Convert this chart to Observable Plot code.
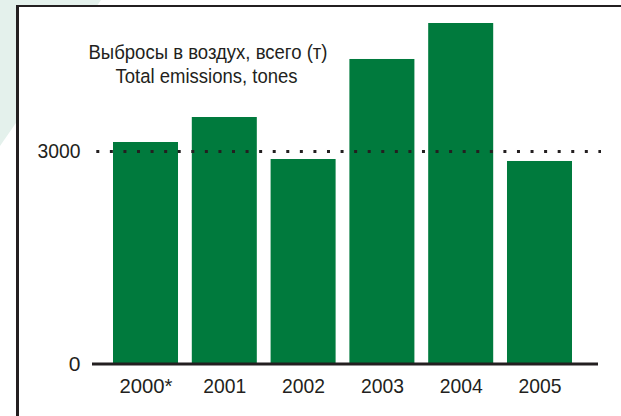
<!DOCTYPE html>
<html>
<head>
<meta charset="utf-8">
<script src="https://cdn.jsdelivr.net/npm/d3@7"></script>
<script src="https://cdn.jsdelivr.net/npm/@observablehq/plot@0.6"></script>
<style>
  html, body { margin: 0; padding: 0; background: #fff; }
  #wrap { position: relative; width: 621px; height: 416px; overflow: hidden; background: #fff;
          font-family: "Liberation Sans", Arial, sans-serif; }
  #mint { position: absolute; left: 0; top: 0; width: 621px; height: 416px; background: #e4f1ec;
          clip-path: polygon(0 0, 101px 0, 0 146px); }
  #box { position: absolute; left: 16px; top: 4.8px; width: 700px; height: 500px; background: #fff;
         border-top: 2.5px solid #231f20; border-left: 3px solid #231f20; }
  #chart { position: absolute; left: 0; top: 0; }
</style>
</head>
<body>
<div id="wrap">
  <div id="mint"></div>
  <div id="box"></div>
  <div id="chart"></div>
</div>
<script>
const years = ["2000*", "2001", "2002", "2003", "2004", "2005"];
const emissions = [3127, 3480, 2887, 4299, 4807, 2859];
const yTicks = [0, 3000];
const referenceLevel = [3000];
const titleRu = "Выбросы в воздух, всего (т)";
const titleEn = "Total emissions, tones";

const data = years.map((year, i) => ({year, value: emissions[i]}));

const chart = Plot.plot({
  width: 621,
  height: 416,
  marginTop: 0,
  marginLeft: 92,
  marginRight: 23,
  marginBottom: 52.5,
  style: {background: "transparent", fontFamily: "'Liberation Sans', Arial, sans-serif", color: "#231f20", fontSize: "21px", overflow: "visible"},
  x: {type: "band", domain: years, range: [113, 572], paddingInner: 0.175, paddingOuter: 0, align: 0.5, round: false, label: null},
  y: {domain: [0, 3000], range: [363.5, 151], label: null},
  marks: [
    Plot.barY(data, {x: "year", y: "value", fill: "#007a3d"}),
    Plot.ruleY(referenceLevel, {stroke: "#231f20", strokeWidth: 3, strokeDasharray: "3,10.57", strokeDashoffset: -1.3, dx: 3}),
    Plot.ruleY([0], {stroke: "#231f20", strokeWidth: 3}),
    Plot.axisY(yTicks, {tickSize: 0, tickPadding: 12, fontSize: 21, tickFormat: d => String(d), label: null}),
    Plot.axisX({tickSize: 0, tickPadding: 14.5, fontSize: 21, label: null}),
    Plot.text([titleRu], {text: d => d, frameAnchor: "top-left", dx: 115.5, dy: 43.6, fontSize: 20.5, textAnchor: "middle", fill: "#231f20"}),
    Plot.text([titleEn], {text: d => d, frameAnchor: "top-left", dx: 114, dy: 67.6, fontSize: 20.5, textAnchor: "middle", fill: "#231f20"})
  ]
});

const fit = {[titleRu]: 239, [titleEn]: 182, "3000": 43, "2000*": 53, "2001": 43, "2002": 43, "2003": 43, "2004": 43, "2005": 43};
chart.querySelectorAll("text").forEach(t => {
  const s = t.textContent;
  if (fit[s] && t.children.length === 0) {
    t.setAttribute("textLength", fit[s]);
    t.setAttribute("lengthAdjust", "spacingAndGlyphs");
  }
});
document.getElementById("chart").appendChild(chart);
</script>
</body>
</html>
